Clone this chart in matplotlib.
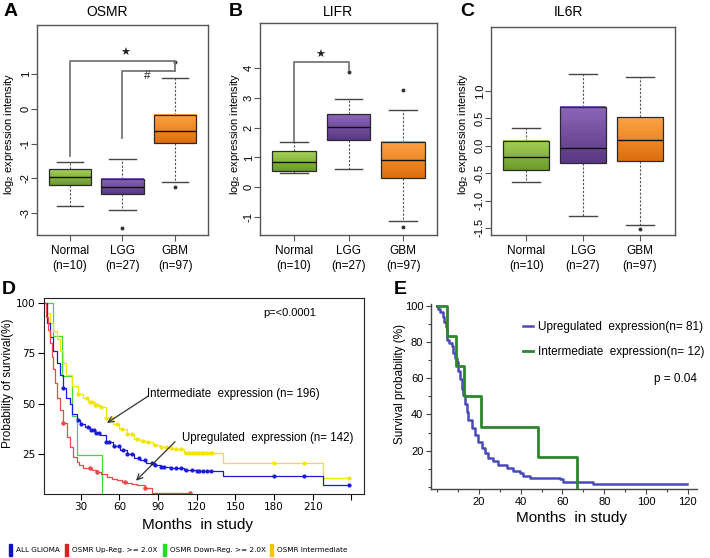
import numpy as np
import matplotlib.pyplot as plt
from matplotlib.colors import LinearSegmentedColormap
from matplotlib.patches import Rectangle
from matplotlib.lines import Line2D

plt.rcParams['font.family'] = ['Liberation Sans', 'DejaVu Sans']
plt.rcParams['axes.unicode_minus'] = False
plt.rcParams['mathtext.fontset'] = 'custom'
plt.rcParams['mathtext.rm'] = 'Liberation Sans'

W, H = 710, 558

# ---- box plot data ----
groups = ['Normal\n(n=10)', 'LGG\n(n=27)', 'GBM\n(n=97)']

osmr_med = [-1.96, -2.24, -0.64]
osmr_q1 = [-2.19, -2.46, -0.99]
osmr_q3 = [-1.74, -2.02, -0.18]
osmr_lo = [-2.80, -2.90, -2.10]
osmr_hi = [-1.52, -1.43, 0.88]
osmr_out = [[], [-3.44], [-2.26, 1.34]]

lifr_med = [0.85, 2.03, 0.91]
lifr_q1 = [0.56, 1.60, 0.31]
lifr_q3 = [1.23, 2.46, 1.52]
lifr_lo = [0.47, 0.62, -1.12]
lifr_hi = [1.52, 2.95, 2.60]
lifr_out = [[], [3.88], [3.27, -1.34]]

il6r_med = [-0.21, -0.04, 0.11]
il6r_q1 = [-0.45, -0.32, -0.28]
il6r_q3 = [0.08, 0.71, 0.52]
il6r_lo = [-0.67, -1.28, -1.45]
il6r_hi = [0.32, 1.32, 1.26]
il6r_out = [[], [], [-1.52]]

# ---- survival data, panel D (months, % surviving) ----
all_t = [0, 3.6, 6.2, 8.8, 11.4, 14, 16.5, 19, 21.7, 23, 26.9, 29.5, 33, 37, 41, 45,
         50, 55, 60.5, 66, 71, 76, 81, 88, 92, 100, 110, 120, 140.6, 217.8]
all_s = [100, 90, 83, 76, 70, 64, 58, 53, 50, 45, 42, 40, 38.5, 37, 35.5, 34.5,
         31, 29, 27, 25, 23, 22, 20.5, 19.5, 18.6, 17.8, 17.2, 16.5, 14.1, 9.5]
all_end = 239
all_cens = [16.5, 28, 30, 36, 38, 40, 42, 44, 50, 52, 56, 60, 63, 66, 70, 75, 80, 85,
            88, 92, 95, 100, 104, 108, 112, 116, 120, 122, 125, 128, 131, 180, 203, 238]

mid_t = [0, 3.6, 6.2, 8.8, 11.4, 14, 16.5, 19, 23, 28, 32, 36, 41, 45, 50, 55, 60,
         66, 71, 76, 81, 86, 91.5, 97, 102, 110, 140.6, 217.8]
mid_s = [100, 95, 90, 86, 82, 76, 70, 64, 59, 55, 53, 51, 49.5, 48.5, 43, 40, 37.6,
         35, 32.6, 31.5, 30.9, 29.5, 28.4, 28, 27.6, 25.3, 20.6, 12.9]
mid_end = 239
mid_cens = [28, 35, 37, 39, 41, 43, 46, 50, 54, 58, 62, 66, 70, 74, 78, 82, 88, 92, 96,
            100, 104, 108, 112, 114, 116, 118, 120, 122, 124, 126, 128, 130, 132,
            180, 203, 238]

up_t = [0, 3, 4.9, 6.2, 7.5, 8.8, 10.1, 12, 14, 16.5, 19.1, 21.7, 24.3, 26.9, 29,
        32.1, 38.5, 42.4, 46, 50.2, 54, 57.9, 62, 65.7, 70, 73.5, 79.9, 85.1]
up_s = [100, 93, 86.6, 80, 73.4, 67, 60.1, 53, 46.9, 40.2, 33.6, 28.6, 23.6, 21.1,
        19.5, 17.8, 17, 16.2, 15, 13.7, 12.8, 12, 11.2, 10.7, 10, 9.5, 7.9, 5.7]
up_end = 114.8
up_cens = [16.5, 37.2, 42.4, 64.4, 79.9, 114.8]

down_t = [0, 8.8, 15.3, 23, 26.9, 46.3]
down_s = [100, 83.5, 63.7, 44, 24.5, 0]

# ---- survival data, panel E ----
e_up_t = [0, 0.6, 1.4, 3.0, 3.3, 4.3, 4.6, 5.9, 7.0, 7.8, 8.6, 9.4, 10.2, 11.0, 11.8,
          12.6, 13.4, 14.2, 15.0, 16.6, 18.2, 19.8, 21.4, 23.0, 24.5, 26.9, 29.3,
          33.3, 36.5, 39.7, 41.3, 44.5, 58.9, 60.5, 74.8]
e_up_s = [100, 98.7, 96.9, 94.2, 91.4, 88.7, 81.5, 79.6, 77.8, 74.2, 71.5, 68.8,
          64.3, 59.7, 54.2, 50.6, 46.0, 41.4, 36.9, 32.3, 28.6, 25.0, 21.3, 18.6,
          15.8, 14.0, 12.2, 10.3, 8.5, 7.6, 5.8, 4.9, 4.0, 2.4, 1.2]
e_up_end = 119.5
e_mid_t = [0, 4.6, 9.1, 12.9, 20.9, 48.5, 66.8]
e_mid_s = [100, 83.3, 66.7, 50, 33.3, 16.7, 0]

box_cols = [('#6A9A2A', '#A5D257'), ('#583882', '#8E66BA'), ('#DD6E0C', '#FFA445')]


def px(l, t, r, b):
    return [l / W, 1 - b / H, (r - l) / W, (b - t) / H]


def ftext(x, y, s, **kw):
    fig.text(x / W, 1 - y / H, s, **kw)


def box_panel(ax, med, q1, q3, lo, hi, out, ylim, yticks, ylabels):
    stats = [dict(med=m, q1=a, q3=b, whislo=l, whishi=h, fliers=f)
             for m, a, b, l, h, f in zip(med, q1, q3, lo, hi, out)]
    ax.bxp(stats, positions=[1, 2, 3], widths=0.8, capwidths=0.5,
           patch_artist=True,
           boxprops=dict(facecolor='none', edgecolor='#2a2a2a', lw=0.9, zorder=3),
           whiskerprops=dict(color='#555555', lw=0.8, ls=(0, (2, 1.5))),
           capprops=dict(color='#444444', lw=1.0),
           medianprops=dict(color='#111111', lw=1.0, zorder=4),
           flierprops=dict(marker='o', markersize=1.8, markerfacecolor='#333333',
                           markeredgecolor='#333333'))
    grad = np.linspace(0, 1, 64).reshape(-1, 1)
    for i, (c0, c1) in enumerate(box_cols):
        cmap = LinearSegmentedColormap.from_list('g%d' % i, [c0, c1])
        ax.imshow(grad, extent=[i + 0.6, i + 1.4, q1[i], q3[i]], origin='lower',
                  aspect='auto', cmap=cmap, zorder=2)
    ax.set_xlim(0.38, 3.62)
    ax.set_ylim(*ylim)
    ax.set_xticks([1, 2, 3])
    ax.set_xticklabels(groups, fontsize=8.5, linespacing=1.4)
    ax.set_yticks(yticks)
    ax.set_yticklabels(ylabels, rotation=90, va='center', fontsize=8)
    ax.tick_params(direction='out', length=4, color='#555555')
    ax.tick_params(axis='y', pad=0.5)
    ax.tick_params(axis='x', pad=3)
    for sp in ax.spines.values():
        sp.set_color('#555555')
        sp.set_linewidth(1.0)


fig = plt.figure(figsize=(7.1, 5.58), dpi=100)

# ---- A: OSMR ----
axA = fig.add_axes(px(37, 25, 208, 235))
box_panel(axA, osmr_med, osmr_q1, osmr_q3, osmr_lo, osmr_hi, osmr_out,
          (-3.63, 2.41), [-3, -2, -1, 0, 1], ['-3', '-2', '-1', '0', '1'])
axA.plot([1, 1, 3, 3], [-1.37, 1.37, 1.37, 1.1], color='#777777', lw=1.3)
axA.plot([2, 2, 3], [-0.83, 1.1, 1.1], color='#777777', lw=1.3)
axA.text(2.06, 1.6, '\u2605', ha='center', va='center', fontsize=8,
         family='DejaVu Sans', color='#222222')
axA.text(2.47, 0.93, '#', ha='center', va='center', fontsize=8.5, color='#333333')

# ---- B: LIFR ----
axB = fig.add_axes(px(260, 23, 437, 235))
box_panel(axB, lifr_med, lifr_q1, lifr_q3, lifr_lo, lifr_hi, lifr_out,
          (-1.6, 5.51), [-1, 0, 1, 2, 3, 4], ['-1', '0', '1', '2', '3', '4'])
axB.plot([1, 1, 2, 2], [1.55, 4.2, 4.2, 3.93], color='#777777', lw=1.3)
axB.text(1.48, 4.45, '\u2605', ha='center', va='center', fontsize=8,
         family='DejaVu Sans', color='#222222')

# ---- C: IL6R ----
axC = fig.add_axes(px(491, 27, 675, 235))
box_panel(axC, il6r_med, il6r_q1, il6r_q3, il6r_lo, il6r_hi, il6r_out,
          (-1.63, 2.17), [-1.5, -1.0, -0.5, 0.0, 0.5, 1.0],
          ['-1.5', '-1.0', '-0.5', '0.0', '0.5', '1.0'])

for x, lab, letter, lx in [(107, 'OSMR', 'A', 11), (338, 'LIFR', 'B', 236),
                           (568, 'IL6R', 'C', 467)]:
    ftext(x, 12, lab, ha='center', va='center', fontsize=10)
    ftext(lx, 12, letter, ha='center', va='center', fontsize=14, weight='bold')
for x in [9, 235, 463]:
    ftext(x, 134, r'$\mathregular{log_2}$ expression intensity', rotation=90,
          ha='center', va='center', fontsize=8)

# ---- D: Kaplan-Meier, all glioma ----
axD = fig.add_axes(px(44, 298, 364, 494))


def km(ax, t, s, end, color, lw=0.9, cens=None, ms=3.0):
    tt = list(t) + [end]
    ss = list(s) + [s[-1]]
    ax.step(tt, ss, where='post', color=color, lw=lw)
    if cens is not None:
        idx = np.searchsorted(t, cens, side='right') - 1
        ax.plot(cens, np.array(s)[idx], 'o', color=color, ms=ms, mew=0)


km(axD, down_t, down_s, 46.3, '#3CDC3C')
km(axD, mid_t, mid_s, mid_end, '#F2E600', cens=mid_cens)
km(axD, all_t, all_s, all_end, '#1A1AE0', cens=all_cens)
km(axD, up_t, up_s, up_end, '#F04848', cens=up_cens, ms=3.2)
axD.set_xlim(1.55, 249.8)
axD.set_ylim(5.1, 102.5)
axD.set_xticks([30, 60, 90, 120, 150, 180, 210, 240])
axD.set_xticklabels(['30', '60', '90', '120', '150', '180', '210', ''],
                    family='DejaVu Sans', fontsize=7.5)
axD.set_yticks([25, 50, 75, 100])
axD.set_yticklabels(['25', '50', '75', '100'], family='DejaVu Sans', fontsize=7.5)
axD.tick_params(direction='out', length=4, width=0.8, pad=2)
for sp in axD.spines.values():
    sp.set_linewidth(0.8)
    sp.set_color('#222222')
axD.text(171.4, 95, 'p=<0.0001', ha='left', va='center', fontsize=8)
axD.text(81.5, 54.8, 'Intermediate  expression (n= 196)', ha='left', va='center',
         fontsize=8.3)
axD.text(108.6, 32.9, 'Upregulated  expression (n= 142)', ha='left', va='center',
         fontsize=8.3)
arr = dict(arrowstyle='->', color='#333333', lw=0.9, mutation_scale=10, shrinkA=0, shrinkB=0)
axD.annotate('', xy=(50.4, 40.4), xytext=(82.5, 53.8), arrowprops=arr)
axD.annotate('', xy=(72.9, 11.7), xytext=(103.2, 31.1), arrowprops=arr)
ftext(9, 290, 'D', ha='center', va='center', fontsize=14, weight='bold')
ftext(8, 383, 'Probability of survival(%)', rotation=90, ha='center', va='center',
      fontsize=8.5)
ftext(197, 525, 'Months  in study', ha='center', va='center', fontsize=11)

# ---- E: Kaplan-Meier, GBM ----
axE = fig.add_axes(px(431, 304, 697, 489))
km(axE, e_up_t, e_up_s, e_up_end, '#4A4AB8', lw=1.8)
km(axE, e_mid_t, e_mid_s, 66.8, '#2E862E', lw=2.0)
axE.set_xlim(-2.9, 124.4)
axE.set_ylim(-1.3, 101.2)
axE.set_xticks([20, 40, 60, 80, 100, 120])
axE.set_xticks(np.arange(0, 121, 10), minor=True)
axE.set_yticks([20, 40, 60, 80, 100])
axE.set_yticks(np.arange(0, 101, 10), minor=True)
axE.tick_params(which='both', direction='out', color='#444444', width=0.8, labelsize=8)
axE.tick_params(which='major', length=3.5, pad=2)
axE.tick_params(which='minor', length=2)
axE.spines['top'].set_visible(False)
axE.spines['right'].set_visible(False)
for k in ['left', 'bottom']:
    axE.spines[k].set_color('#444444')
    axE.spines[k].set_linewidth(1.0)
e_handles = [Line2D([], [], color='#4A4AB8', lw=1.8), Line2D([], [], color='#2E862E', lw=2.0)]
axE.legend(e_handles, ['Upregulated  expression(n= 81)', 'Intermediate  expression(n= 12)'],
           loc='upper left', bbox_to_anchor=(0.346, 0.91), frameon=False, borderpad=0,
           borderaxespad=0, handlelength=0.85, handletextpad=0.4, labelspacing=1.15,
           fontsize=8.5)
axE.text(1.0, 0.595, 'p = 0.04', transform=axE.transAxes, ha='right', va='center',
         fontsize=8.5)
ftext(400, 290, 'E', ha='center', va='center', fontsize=14, weight='bold')
ftext(400, 384, 'Survival probability (%)', rotation=90, ha='center', va='center',
      fontsize=8.5)
ftext(572, 518, 'Months  in study', ha='center', va='center', fontsize=11)

# ---- bottom legend for panel D ----
leg_names = ['ALL GLIOMA', 'OSMR Up-Reg. >= 2.0X', 'OSMR Down-Reg. >= 2.0X',
             'OSMR Intermediate']
leg_cols = ['#1010CC', '#E02020', '#22DD22', '#F5C400']
leg_x = [9, 65, 163, 270]
for name, c, x in zip(leg_names, leg_cols, leg_x):
    fig.add_artist(Rectangle((x / W, 1 - 556 / H), 2.5 / W, 12 / H, color=c,
                             transform=fig.transFigure))
    ftext(x + 7, 550, name, ha='left', va='center', fontsize=5.2,
          family='DejaVu Sans')

fig.savefig('out.png', dpi=100)
